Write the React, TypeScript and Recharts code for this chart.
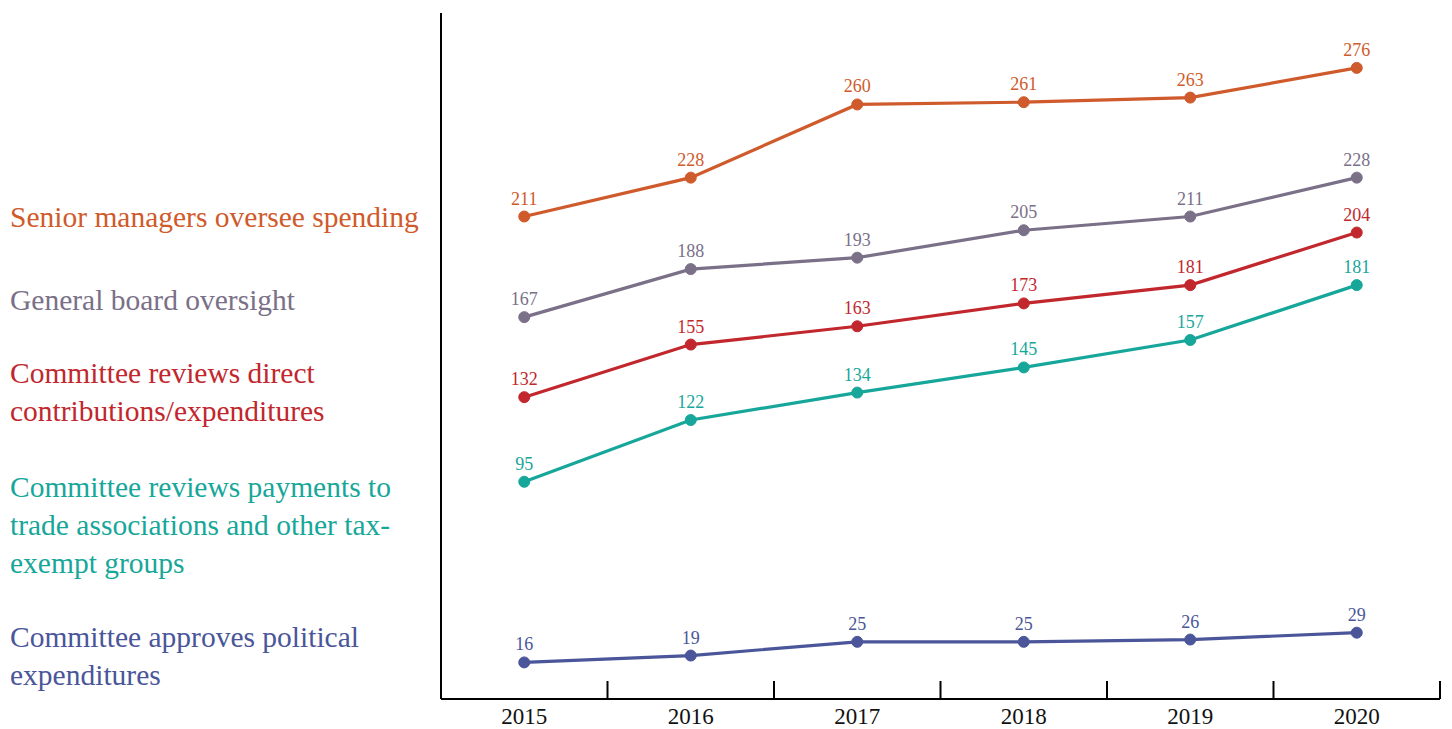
import React from 'react'
import { LineChart, Line, XAxis, YAxis, LabelList } from 'recharts'

const YEARS = ['2015', '2016', '2017', '2018', '2019', '2020']

const seniorManagers = [211, 228, 260, 261, 263, 276]
const generalBoard = [167, 188, 193, 205, 211, 228]
const directContrib = [132, 155, 163, 173, 181, 204]
const tradeAssoc = [95, 122, 134, 145, 157, 181]
const politicalExp = [16, 19, 25, 25, 26, 29]

const SERIES = [
  { key: 'senior', values: seniorManagers, color: '#CF5A2B', lines: ['Senior managers oversee spending'] },
  { key: 'board', values: generalBoard, color: '#7A7088', lines: ['General board oversight'] },
  { key: 'direct', values: directContrib, color: '#C1272D', lines: ['Committee reviews direct', 'contributions/expenditures'] },
  { key: 'trade', values: tradeAssoc, color: '#17A79A', lines: ['Committee reviews payments to', 'trade associations and other tax-', 'exempt groups'] },
  { key: 'political', values: politicalExp, color: '#4A5699', lines: ['Committee approves political', 'expenditures'] },
]

// top of each legend block (px from top of chart)
const LEGEND_TOPS = [198, 281, 354, 468, 618]

const W = 1452
const H = 729
const M = { top: 13, right: 12, bottom: 0, left: 440 }
const Y_W = 1
const X_H = 30
const PLOT_W = W - M.left - Y_W - M.right
const BAND = PLOT_W / YEARS.length
const FONT = '"Liberation Serif", "DejaVu Serif", serif'

const data = YEARS.map((year, i) => {
  const row: Record<string, string | number> = { year }
  SERIES.forEach(s => { row[s.key] = s.values[i] })
  return row
})

const YearTick = (props: any) => {
  const { x, y, payload, index } = props
  const last = index === YEARS.length - 1
  return (
    <g>
      {index > 0 && <line x1={x - BAND / 2} x2={x - BAND / 2} y1={y - 18} y2={y} stroke="#000" strokeWidth={2} />}
      {last && <line x1={x + BAND / 2} x2={x + BAND / 2} y1={y - 18} y2={y} stroke="#000" strokeWidth={2} />}
      <text x={x} y={y + 25} textAnchor="middle" fontSize={23} fill="#111" fontFamily={FONT}>{payload.value}</text>
    </g>
  )
}

const App: React.FC = () => {
  return (
    <div style={{ position: 'absolute', left: 0, top: 0, width: W, height: H, background: '#fff' }}>
      <LineChart width={W} height={H} data={data} margin={M} style={{ overflow: 'visible' }}>
        <XAxis
          dataKey="year"
          height={X_H}
          padding={{ left: BAND / 2, right: BAND / 2 }}
          axisLine={{ stroke: '#000', strokeWidth: 2 }}
          tickLine={false}
          tickSize={0}
          tickMargin={0}
          tick={<YearTick />}
          interval={0}
        />
        <YAxis
          domain={[0, 300]}
          width={Y_W}
          tick={false}
          tickLine={false}
          axisLine={{ stroke: '#000', strokeWidth: 2 }}
        />
        {SERIES.map(s => (
          <Line
            key={s.key}
            dataKey={s.key}
            stroke={s.color}
            strokeWidth={3.2}
            dot={{ r: 5.5, fill: s.color, stroke: s.color, strokeWidth: 1 }}
            isAnimationActive={false}
          >
            <LabelList dataKey={s.key} position="top" offset={12} fill={s.color} fontSize={18} fontFamily={FONT} />
          </Line>
        ))}
      </LineChart>
      {SERIES.map((s, i) => (
        <div
          key={s.key}
          style={{
            position: 'absolute', left: 10, top: LEGEND_TOPS[i],
            fontFamily: FONT, fontSize: 29.5, lineHeight: '38px', color: s.color, whiteSpace: 'nowrap',
          }}
        >
          {s.lines.map(l => <div key={l}>{l}</div>)}
        </div>
      ))}
    </div>
  )
}

export default App
